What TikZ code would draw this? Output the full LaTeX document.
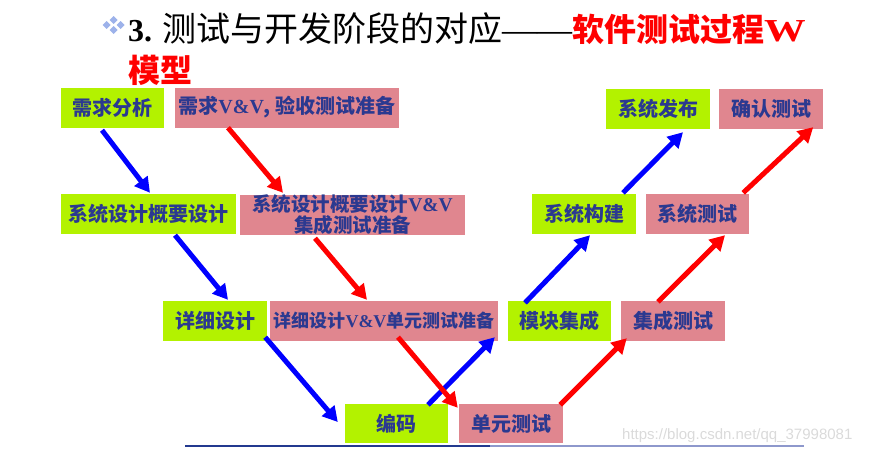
\documentclass[tikz,border=0pt]{standalone}
\usepackage{fontspec}
\setmainfont{Liberation Serif}
\newfontfamily\cjk{Noto Sans CJK SC}
\newfontfamily\marksans{Liberation Sans}
\usetikzlibrary{arrows.meta,calc}
\definecolor{devgreen}{HTML}{B3F200}
\definecolor{testpink}{HTML}{E0868F}
\definecolor{labelblue}{HTML}{2B3990}
\definecolor{bulletblue}{HTML}{9DB2EA}
\definecolor{rulenavy}{HTML}{23398F}
\definecolor{rulelight}{HTML}{8E98CC}
\definecolor{markgray}{HTML}{DADADA}
\newcommand{\vv}{{\rmfamily\bfseries V\&V}}
\tikzset{
  stage/.style={minimum height=40pt,inner sep=0pt,text=labelblue,
                font=\cjk\bfseries\fontsize{20}{22}\selectfont},
  devbox/.style={stage,fill=devgreen},
  testbox/.style={stage,fill=testpink},
  devflow/.style={draw=blue,line width=5pt,-{Triangle[length=15pt,width=16pt]}},
  testflow/.style={draw=red,line width=5pt,-{Triangle[length=15pt,width=16pt]}}
}

\begin{document}
\begin{tikzpicture}[x=1pt,y=-1pt]
  \useasboundingbox (0,0) rectangle (872,450);

  % title
  \foreach \dx/\dy in {-7/0,7/0,0/-5,0/5}
    \fill[bulletblue,shift={(113.5+\dx,25+\dy)}] (-4,0) -- (0,-4) -- (4,0) -- (0,4) -- cycle;
  \node[anchor=base west,inner sep=0pt,font=\fontsize{32}{40}\selectfont] (head) at (128,41)
    {\bfseries 3.\kern 10pt\mdseries{\cjk\fontsize{34}{40}\selectfont 测试与开发阶段的对应}{\fontsize{35}{40}\selectfont ——}{\color{red}\cjk\bfseries 软件测试过程}{\color{red}\bfseries\scalebox{1.3}[1]{W}}};
  \node[anchor=base west,inner sep=0pt,text=red,font=\cjk\bfseries\fontsize{32}{40}\selectfont] (head2) at (128,82) {模型};

  % development side
  \node[devbox,minimum width=103pt] (req) at (112.5,107.5) {需求分析};
  \node[devbox,minimum width=175pt] (sysd) at (148.5,214) {系统设计概要设计};
  \node[devbox,minimum width=104pt] (detd) at (215,321) {详细设计};
  \node[devbox,minimum width=103pt,minimum height=39pt] (code) at (396.5,423.5) {编码};
  \node[devbox,minimum width=103pt] (modi) at (559.5,321) {模块集成};
  \node[devbox,minimum width=104pt] (sysb) at (584,214) {系统构建};
  \node[devbox,minimum width=104pt] (sysrel) at (658,109) {系统发布};

  % test side
  \node[testbox,minimum width=224pt] (reqvv) at (287,107.5) {需求\vv, 验收测试准备};
  \node[testbox,minimum width=225pt,align=center,
        font=\cjk\bfseries\fontsize{19.5}{21}\selectfont] (sysdvv) at (352.5,215)
        {系统设计概要设计\vv\\集成测试准备};
  \node[testbox,minimum width=228pt,font=\cjk\bfseries\fontsize{18}{20}\selectfont] (detvv) at (384,321) {详细设计\vv 单元测试准备};
  \node[testbox,minimum width=104pt,minimum height=39pt] (unitt) at (511,423.5) {单元测试};
  \node[testbox,minimum width=104pt] (intt) at (673,321) {集成测试};
  \node[testbox,minimum width=103pt] (syst) at (697.5,214) {系统测试};
  \node[testbox,minimum width=104pt] (acc) at (771,109) {确认测试};

  \draw[devflow] ($(req.south)+(-10.5,2.5)$) -- ($(sysd.north)+(1.5,-1)$);
  \draw[devflow] ($(sysd.south)+(26.5,1)$) -- ($(detd.north)+(13,-1)$);
  \draw[devflow] ($(detd.south east)+(-2,-4)$) -- ($(code.west)+(-7,-1.5)$);
  \draw[devflow] ($(code.north)+(31.5,1)$) -- ($(modi.south west)+(-13,-4)$);
  \draw[devflow] ($(modi.north)+(-34.5,2)$) -- ($(sysb.south)+(6,1)$);
  \draw[devflow] ($(sysb.north)+(39,-1)$) -- ($(sysrel.south)+(25,3)$);

  \draw[testflow] ($(reqvv.south)+(-59,0)$) -- ($(sysdvv.north)+(-69.5,-2)$);
  \draw[testflow] ($(sysdvv.south)+(-37.5,3)$) -- ($(detvv.north)+(-17,-1)$);
  \draw[testflow] ($(detvv.south)+(14,-4)$) -- ($(unitt.north west)+(-1,4)$);
  \draw[testflow] ($(unitt.north east)+(-3,1)$) -- ($(intt.south west)+(6,-3)$);
  \draw[testflow] ($(intt.north)+(-15,1)$) -- ($(syst.south)+(27.5,1)$);
  \draw[testflow] ($(syst.north east)+(-6,-1)$) -- ($(acc.south east)+(-10,-2)$);

  % bottom rule and watermark
  \draw[rulenavy,line width=2pt] (185,446) -- (490,446);
  \draw[rulelight,line width=2pt] (490,446) -- (804,446);
  \node[anchor=base west,inner sep=0pt,text=markgray,font=\marksans\fontsize{15}{15}\selectfont] (mark) at (622,439) {https://blog.csdn.net/qq\_37998081};
\end{tikzpicture}
\end{document}
